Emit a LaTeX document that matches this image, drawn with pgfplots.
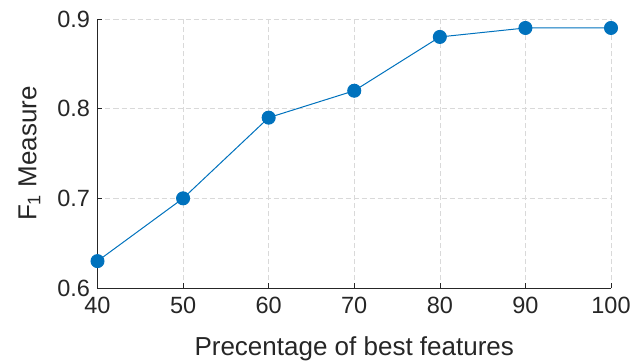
\documentclass[border=0pt]{standalone}
\usepackage{pgfplots}
\pgfplotsset{compat=1.18}
\usepackage{fontspec}
\setmainfont{Liberation Sans}
\definecolor{mblue}{HTML}{0072BD}
\definecolor{mtext}{HTML}{262626}
\begin{document}
\begin{tikzpicture}
\begin{axis}[
  scale only axis,
  width=513.5pt, height=269pt,
  xmin=40, xmax=100, ymin=0.6, ymax=0.9,
  xtick={40,50,...,100},
  ytick={0.6,0.7,0.8,0.9},
  yticklabel style={/pgf/number format/fixed,/pgf/number format/precision=1,/pgf/number format/fixed zerofill, xshift=-4pt},
  xticklabel style={yshift=-6pt},
  /pgf/number format/assume math mode=true,
  axis x line*=bottom, axis y line*=left,
  axis line style={mtext, line width=0.6pt, -},
  tick align=inside,
  major tick length=5pt,
  tick style={mtext, line width=0.6pt},
  tick label style={font=\fontsize{23.5}{26}\selectfont, text=mtext},
  label style={font=\fontsize{26}{28}\selectfont, text=mtext},
  xlabel={Precentage of best features},
  ylabel={F\textsubscript{1} Measure},
  xlabel style={yshift=-16pt},
  ylabel style={yshift=10pt},
  grid=major,
  major grid style={dashed, gray!30, line width=0.6pt, dash pattern=on 5pt off 3pt},
]
\addplot[mblue, line width=1pt, mark=*, mark size=6.5pt, mark options={fill=mblue, draw=mblue}]
coordinates {(40,0.63) (50,0.70) (60,0.79) (70,0.82) (80,0.88) (90,0.89) (100,0.89)};
\end{axis}
\pgfresetboundingbox
\path (-97.5pt,-72pt) rectangle (533.5pt,288pt);
\end{tikzpicture}
\end{document}
